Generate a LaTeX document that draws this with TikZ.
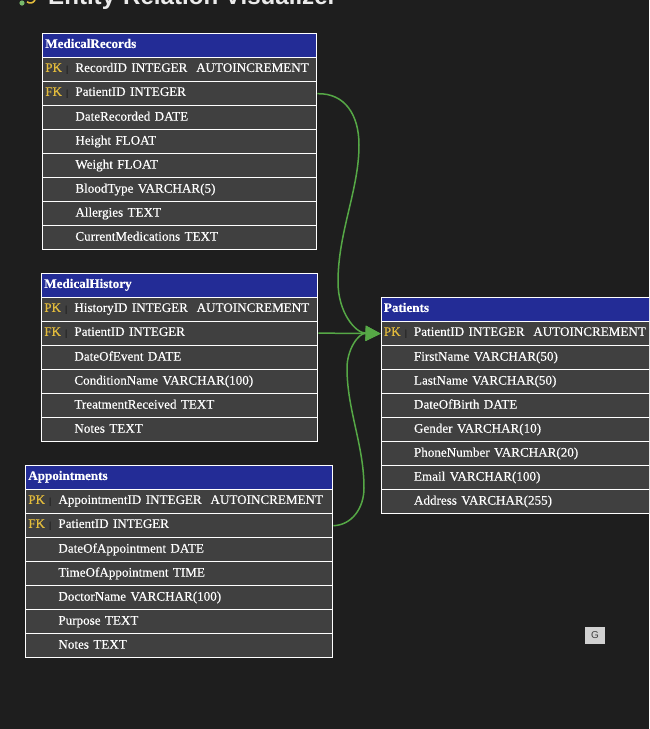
\documentclass[tikz,border=0pt]{standalone}
\usepackage{fontspec}
\setmainfont{Liberation Serif}[RawFeature={embolden=0.35}]
\setsansfont{Liberation Sans}
\usetikzlibrary{arrows.meta}
\definecolor{pagebg}{HTML}{1E1E1E}
\definecolor{headbg}{HTML}{232C96}
\definecolor{rowbg}{HTML}{404040}
\definecolor{keygold}{HTML}{E3BC3C}
\definecolor{linkgreen}{HTML}{56A846}
\definecolor{sepdark}{HTML}{141414}
\tikzset{
  x=1pt,y=-1pt,
  headbox/.style={draw=white,line width=1.4pt,fill=headbg,text=white,font=\fontsize{13.1}{15}\selectfont\bfseries,
    anchor=north west,minimum height=24pt,inner xsep=2.6pt,inner ysep=0pt,align=left,text height=9pt,text depth=4.5pt},
  rowbox/.style={draw=white,line width=1.4pt,fill=rowbg,text=white,font=\fontsize{13.1}{15}\selectfont,
    anchor=north west,minimum height=24pt,inner xsep=2.6pt,inner ysep=0pt,align=left,text height=9pt,text depth=4.5pt},
  link/.style={draw=linkgreen,line width=1.5pt,-{Triangle[length=15pt,width=15pt]}},
}
% name, x, y, width, text
\newcommand{\ehead}[5]{\node[headbox,minimum width=#4pt,text width=#4pt-5.2pt] (#1) at (#2,#3) {#5};}
% name, x, y, width, key, text
\newcommand{\erow}[6]{\node[rowbox,minimum width=#4pt,text width=#4pt-5.2pt] (#1) at (#2,#3)
  {\makebox[21pt][l]{\textcolor{keygold}{#5}}\makebox[9.1pt][l]{\ifx&#5&\else\textcolor{sepdark}{\fontsize{9}{9}\selectfont|}\fi}\ifx&#5&\raisebox{-0.7pt}{#6}\else #6\fi};}
\begin{document}
\begin{tikzpicture}
\useasboundingbox (0,0) rectangle (649,729);
\fill[pagebg] (0,0) rectangle (649,729);
\begin{scope}
\clip (0,0) rectangle (649,729);
\node[anchor=base west,text=white!92!black,font=\sffamily\bfseries\fontsize{24.1}{26}\selectfont,inner sep=0pt] (title) at (48,4.6) {Entity-Relation Visualizer};
\fill[linkgreen!80!white] (22,3) circle (2.6pt);
\draw[keygold,line width=1.6pt] (27,1.8) .. controls (30,3.8) and (33,3.4) .. (35,0);
% MedicalRecords
\ehead{mrh}{42}{33}{274}{MedicalRecords}
\erow{mr1}{42}{57}{274}{PK}{RecordID INTEGER\ \ AUTOINCREMENT}
\erow{mr2}{42}{81}{274}{FK}{PatientID INTEGER}
\erow{mr3}{42}{105}{274}{}{DateRecorded DATE}
\erow{mr4}{42}{129}{274}{}{Height FLOAT}
\erow{mr5}{42}{153}{274}{}{Weight FLOAT}
\erow{mr6}{42}{177}{274}{}{BloodType VARCHAR(5)}
\erow{mr7}{42}{201}{274}{}{Allergies TEXT}
\erow{mr8}{42}{225}{274}{}{CurrentMedications TEXT}
% MedicalHistory
\ehead{mhh}{41}{273}{276}{MedicalHistory}
\erow{mh1}{41}{297}{276}{PK}{HistoryID INTEGER\ \ AUTOINCREMENT}
\erow{mh2}{41}{321}{276}{FK}{PatientID INTEGER}
\erow{mh3}{41}{345}{276}{}{DateOfEvent DATE}
\erow{mh4}{41}{369}{276}{}{ConditionName VARCHAR(100)}
\erow{mh5}{41}{393}{276}{}{TreatmentReceived TEXT}
\erow{mh6}{41}{417}{276}{}{Notes TEXT}
% Appointments
\ehead{aph}{25}{465}{307}{Appointments}
\erow{ap1}{25}{489}{307}{PK}{AppointmentID INTEGER\ \ AUTOINCREMENT}
\erow{ap2}{25}{513}{307}{FK}{PatientID INTEGER}
\erow{ap3}{25}{537}{307}{}{DateOfAppointment DATE}
\erow{ap4}{25}{561}{307}{}{TimeOfAppointment TIME}
\erow{ap5}{25}{585}{307}{}{DoctorName VARCHAR(100)}
\erow{ap6}{25}{609}{307}{}{Purpose TEXT}
\erow{ap7}{25}{633}{307}{}{Notes TEXT}
% Patients
\ehead{pth}{380.6}{297}{272}{Patients}
\erow{pt1}{380.6}{321}{272}{PK}{PatientID INTEGER\ \ AUTOINCREMENT}
\erow{pt2}{380.6}{345}{272}{}{FirstName VARCHAR(50)}
\erow{pt3}{380.6}{369}{272}{}{LastName VARCHAR(50)}
\erow{pt4}{380.6}{393}{272}{}{DateOfBirth DATE}
\erow{pt5}{380.6}{417}{272}{}{Gender VARCHAR(10)}
\erow{pt6}{380.6}{441}{272}{}{PhoneNumber VARCHAR(20)}
\erow{pt7}{380.6}{465}{272}{}{Email VARCHAR(100)}
\erow{pt8}{380.6}{489}{272}{}{Address VARCHAR(255)}
% connectors
\draw[link] (mr2.east) .. controls (345,93) and (359,115) .. (359,145)
  .. controls (359,190) and (338,232) .. (338,282)
  .. controls (338,312) and (355,333) .. (pt1.west);
\draw[link] ([yshift=0.55pt]mh2.east) -- ([yshift=0.2pt]pt1.west);
\draw[link] (ap2.east) .. controls (352,525) and (364,508) .. (364,488)
  .. controls (364,445) and (347,410) .. (347,368)
  .. controls (347,350) and (358,333) .. (pt1.west);
% tooltip
\node[fill=white!82!black,text=black!75,font=\sffamily\fontsize{10}{12}\selectfont,minimum width=20pt,minimum height=17pt,inner sep=0pt] (gkey) at (595,635.5) {G};
\end{scope}
\end{tikzpicture}
\end{document}
